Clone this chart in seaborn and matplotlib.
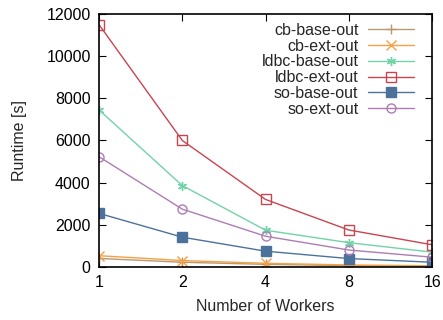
import pandas as pd
import seaborn as sns
import matplotlib.pyplot as plt

workers = [1, 2, 4, 8, 16]
series = ['cb-base-out', 'cb-ext-out', 'ldbc-base-out', 'ldbc-ext-out', 'so-base-out', 'so-ext-out']
cb_base = [400, 220, 120, 60, 30]
cb_ext = [530, 300, 170, 90, 50]
ldbc_base = [7450, 3860, 1740, 1150, 700]
ldbc_ext = [11500, 6000, 3200, 1750, 1050]
so_base = [2540, 1410, 745, 395, 220]
so_ext = [5230, 2740, 1455, 800, 460]

colors = ['#b9996f', '#f5a045', '#72d2a8', '#c8454f', '#4c729c', '#ae7cb4']
markers = ['+', 'x', (6, 2, 0), 's', 's', 'o']
filled = [True, True, True, False, True, False]

rows = []
for name, vals in zip(series, [cb_base, cb_ext, ldbc_base, ldbc_ext, so_base, so_ext]):
    for w, v in zip(workers, vals):
        rows.append({'workers': w, 'runtime': v, 'series': name})
df = pd.DataFrame(rows)

sns.set_style('ticks')
plt.rcParams['font.family'] = ['Liberation Sans', 'DejaVu Sans']

fig = plt.figure(figsize=(4.43, 3.2), dpi=100)
ax = fig.add_axes([0.2235, 0.166, 0.752, 0.79])

for i, name in enumerate(series):
    sub = df[df['series'] == name]
    mfc = colors[i] if filled[i] else 'none'
    sns.lineplot(data=sub, x='workers', y='runtime', ax=ax, color=colors[i],
                 marker=markers[i], markersize=6.5, markerfacecolor=mfc,
                 markeredgecolor=colors[i], markeredgewidth=1.0,
                 linewidth=1.0, label=name)

ax.set_xscale('log', base=2)
ax.set_xlim(1, 16)
ax.set_ylim(0, 12000)
ax.set_xticks(workers)
ax.set_xticklabels([str(w) for w in workers])
ax.set_yticks(range(0, 12001, 2000))
ax.minorticks_off()
ax.tick_params(direction='in', top=True, right=True, labelsize=11.5, length=5, width=0.8,
               colors='black', pad=6)
for s in ax.spines.values():
    s.set_linewidth(1.2)
    s.set_color('black')

ax.set_xlabel('Number of Workers', fontsize=11.5, labelpad=6)
ax.set_ylabel('Runtime [s]', fontsize=11.5, labelpad=14)

ax.legend(loc='upper right', bbox_to_anchor=(0.98, 1.01), frameon=False, markerfirst=False,
          fontsize=11.5, handlelength=2.9, handletextpad=0.6, labelspacing=0.05, borderpad=0.2)

fig.savefig('out.png', dpi=100)
